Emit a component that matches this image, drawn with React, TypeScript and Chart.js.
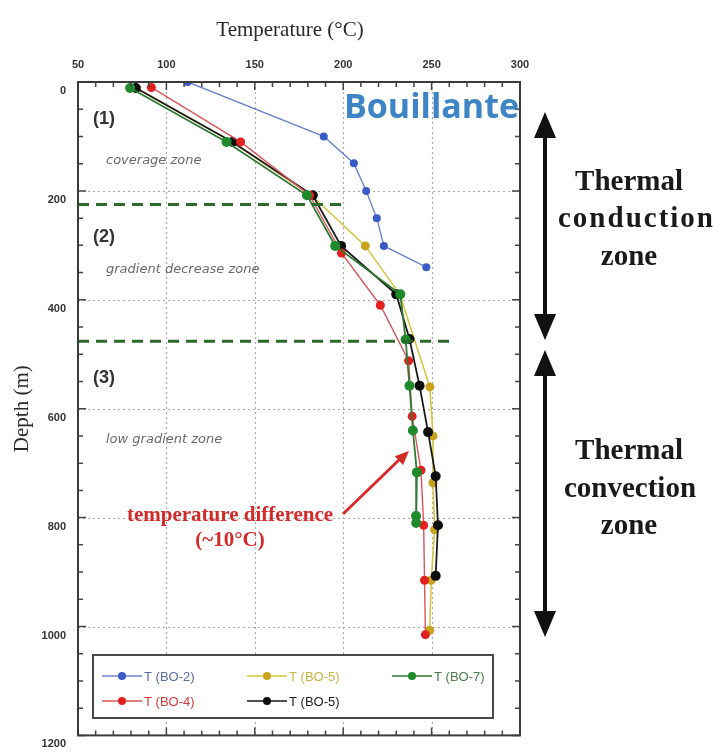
import React, { useEffect, useRef } from 'react';
import { Chart, registerables } from 'chart.js';

Chart.register(...registerables);

// ---- axis ticks ----
const tempTicks = [50, 100, 150, 200, 250, 300];
const depthTicks = [0, 200, 400, 600, 800, 1000, 1200];

// ---- series (temperature °C, depth m) ----
const bo2Temp = [112, 189, 206, 213, 219, 223, 247];
const bo2Depth = [0, 100, 149, 200, 250, 301, 340];

const bo4Temp = [91.5, 142, 181, 199, 221, 237, 239, 244, 245.5, 246, 246.5];
const bo4Depth = [10, 110, 208, 314, 410, 512, 614, 713, 814, 915, 1015];

const bo5yTemp = [83, 137, 182, 212.5, 232, 249, 250.8, 250.8, 251.7, 249.8, 248.9];
const bo5yDepth = [11, 110, 208, 301, 390, 560, 650, 736, 822, 915, 1007];

const bo5kTemp = [82.7, 137.4, 182.8, 198.8, 230, 237.5, 243.2, 248, 252.3, 253.6, 252.3];
const bo5kDepth = [11, 110, 208, 301, 390, 472, 558, 643, 724, 814, 907];

const bo7Temp = [79.5, 134, 179.5, 195.5, 232.3, 235.3, 237.5, 239.4, 241.7, 241.2, 241.3];
const bo7Depth = [11, 110, 208, 301, 390, 473, 558, 640, 717, 797, 810];

// zone boundaries (depth, temperature range)
const boundaryDepths = [225, 476];
const boundaryStartTemp = [50, 50];
const boundaryEndTemp = [202, 263];

const legendLabels = ['T (BO-2)', 'T (BO-5)', 'T (BO-7)', 'T (BO-4)', 'T (BO-5)'];

const SANS = '"Liberation Sans", Arial, sans-serif';
const SERIF = '"Liberation Serif", "Times New Roman", serif';

const pts = (t: number[], d: number[]) => t.map((v, i) => ({ x: v, y: d[i] }));

const series = [
  { label: 'T (BO-2)', t: bo2Temp, d: bo2Depth, line: '#6d84cc', pt: '#3a5bc6', r: 4, order: 5, w: 1.4 },
  { label: 'T (BO-4)', t: bo4Temp, d: bo4Depth, line: '#d9555a', pt: '#e41f1f', r: 4.5, order: 2, w: 1.4 },
  { label: 'T (BO-5)', t: bo5yTemp, d: bo5yDepth, line: '#d6c23c', pt: '#c9a21c', r: 4.5, order: 4, w: 1.5 },
  { label: 'T (BO-5) ', t: bo5kTemp, d: bo5kDepth, line: '#1a1a1a', pt: '#0d0d0d', r: 5, order: 3, w: 1.8 },
  { label: 'T (BO-7)', t: bo7Temp, d: bo7Depth, line: '#2f7a34', pt: '#1d8a2c', r: 5, order: 1, w: 1.8 },
];

function drawArrowHead(ctx: CanvasRenderingContext2D, x1: number, y1: number, x2: number, y2: number, len: number, half: number) {
  const ang = Math.atan2(y2 - y1, x2 - x1);
  ctx.beginPath();
  ctx.moveTo(x2, y2);
  ctx.lineTo(x2 - len * Math.cos(ang) + half * Math.sin(ang), y2 - len * Math.sin(ang) - half * Math.cos(ang));
  ctx.lineTo(x2 - len * Math.cos(ang) - half * Math.sin(ang), y2 - len * Math.sin(ang) + half * Math.cos(ang));
  ctx.closePath();
  ctx.fill();
}

function doubleArrow(ctx: CanvasRenderingContext2D, x: number, yTop: number, yBot: number) {
  ctx.save();
  ctx.strokeStyle = '#111';
  ctx.fillStyle = '#111';
  ctx.lineWidth = 4;
  ctx.beginPath();
  ctx.moveTo(x, yTop + 20);
  ctx.lineTo(x, yBot - 20);
  ctx.stroke();
  drawArrowHead(ctx, x, yBot, x, yTop, 26, 11);
  drawArrowHead(ctx, x, yTop, x, yBot, 26, 11);
  ctx.restore();
}

const overlay = {
  id: 'overlay',
  beforeDatasetsDraw(chart: any) {
    const { ctx, chartArea: a, scales } = chart;
    const x = scales.x, y = scales.y;
    ctx.save();
    ctx.strokeStyle = '#a8a8a8';
    ctx.lineWidth = 1.2;
    ctx.setLineDash([2, 3]);
    for (const t of tempTicks) {
      if (t <= tempTicks[0] || t >= tempTicks[tempTicks.length - 1]) continue;
      const px = Math.round(x.getPixelForValue(t)) + 0.5;
      ctx.beginPath(); ctx.moveTo(px, a.top); ctx.lineTo(px, a.bottom); ctx.stroke();
    }
    for (const d of depthTicks) {
      if (d <= depthTicks[0] || d >= depthTicks[depthTicks.length - 1]) continue;
      const py = Math.round(y.getPixelForValue(d)) + 0.5;
      ctx.beginPath(); ctx.moveTo(a.left, py); ctx.lineTo(a.right, py); ctx.stroke();
    }
    ctx.restore();
  },
  afterDatasetsDraw(chart: any) {
    const { ctx, chartArea: a, scales } = chart;
    const x = scales.x, y = scales.y;
    ctx.save();

    // ticks (inward), all four sides
    ctx.strokeStyle = '#444';
    ctx.lineWidth = 1.5;
    for (let t = 50; t <= 300; t += 10) {
      const px = x.getPixelForValue(t);
      const len = t % 50 === 0 ? 8 : 5;
      ctx.beginPath();
      ctx.moveTo(px, a.top); ctx.lineTo(px, a.top + len);
      ctx.moveTo(px, a.bottom); ctx.lineTo(px, a.bottom - len);
      ctx.stroke();
    }
    for (let d = 0; d <= 1200; d += 50) {
      const py = y.getPixelForValue(d);
      const len = d % 200 === 0 ? 8 : 5;
      ctx.beginPath();
      ctx.moveTo(a.left, py); ctx.lineTo(a.left + len, py);
      ctx.moveTo(a.right, py); ctx.lineTo(a.right - len, py);
      ctx.stroke();
    }
    // frame
    ctx.strokeStyle = '#3c3c3c';
    ctx.lineWidth = 2;
    ctx.strokeRect(a.left, a.top, a.right - a.left, a.bottom - a.top);

    // axis title (top)
    ctx.fillStyle = '#2a2a2a';
    ctx.font = `21px ${SERIF}`;
    ctx.textAlign = 'center';
    ctx.textBaseline = 'middle';
    ctx.fillText('Temperature (°C)', 290, 30);

    // Bouillante
    ctx.fillStyle = '#3f85c6';
    ctx.font = `bold 34px "Open Sans", ${SANS}`;
    ctx.textAlign = 'right';
    ctx.fillText('Bouillante', 519, 108);

    // zone labels
    ctx.textAlign = 'left';
    ctx.fillStyle = '#333';
    ctx.font = `bold 18px ${SANS}`;
    ctx.fillText('(1)', 93, 119);
    ctx.fillText('(2)', 93, 237);
    ctx.fillText('(3)', 93, 378);
    ctx.fillStyle = '#6a6a6a';
    ctx.font = `italic 13px "DejaVu Sans", ${SANS}`;
    ctx.fillText('coverage zone', 106, 161);
    ctx.fillText('gradient decrease zone', 106, 270);
    ctx.fillText('low gradient zone', 106, 440);

    // red annotation
    ctx.fillStyle = '#d32a2a';
    ctx.font = `bold 21px ${SERIF}`;
    ctx.textAlign = 'center';
    ctx.fillText('temperature difference', 230, 516);
    ctx.fillText('(~10°C)', 230, 541);
    ctx.strokeStyle = '#d92b2b';
    ctx.lineWidth = 3;
    ctx.beginPath();
    ctx.moveTo(343, 514);
    ctx.lineTo(400, 459);
    ctx.stroke();
    drawArrowHead(ctx, 343, 514, 409, 451, 14, 6);

    // legend
    const lx = 93, ly = 655, lw = 400, lh = 63;
    ctx.fillStyle = '#fff';
    ctx.fillRect(lx, ly, lw, lh);
    ctx.strokeStyle = '#4a4a4a';
    ctx.lineWidth = 2;
    ctx.strokeRect(lx, ly, lw, lh);
    const legendOrder = [0, 2, 4, 1, 3];
    const colX = [102, 247, 392];
    const rowY = [676, 701];
    const textCols = ['#5c6ba6', '#c9b440', '#4b7d4b', '#cf3a3a', '#222'];
    legendOrder.forEach((si, k) => {
      const s = series[si];
      const cx = colX[k % 3];
      const cy = rowY[Math.floor(k / 3)];
      ctx.strokeStyle = s.line;
      ctx.lineWidth = 1.5;
      ctx.beginPath(); ctx.moveTo(cx, cy); ctx.lineTo(cx + 40, cy); ctx.stroke();
      ctx.fillStyle = s.pt;
      ctx.beginPath(); ctx.arc(cx + 20, cy, 4, 0, Math.PI * 2); ctx.fill();
      ctx.fillStyle = textCols[k];
      ctx.font = `13px ${SANS}`;
      ctx.textAlign = 'left';
      ctx.fillText(legendLabels[k], cx + 42, cy + 1);
    });

    // right-hand annotations
    doubleArrow(ctx, 545, 112, 340);
    doubleArrow(ctx, 545, 350, 637);
    ctx.fillStyle = '#1a1a1a';
    ctx.font = `bold 29px ${SERIF}`;
    ctx.textAlign = 'center';
    ctx.fillText('Thermal', 629, 183);
    ctx.fillText('zone', 629, 258);
    ctx.fillText('Thermal', 629, 452);
    ctx.fillText('convection', 630, 490);
    ctx.fillText('zone', 629, 527);
    ctx.textAlign = 'left';
    (ctx as any).letterSpacing = '2px';
    ctx.fillText('conduction', 558, 220);
    (ctx as any).letterSpacing = '0px';

    ctx.restore();
  },
};

export default function App() {
  const ref = useRef<HTMLCanvasElement>(null);
  useEffect(() => {
    const datasets: any[] = series.map((s) => ({
      label: s.label,
      data: pts(s.t, s.d),
      showLine: true,
      borderColor: s.line,
      borderWidth: s.w,
      backgroundColor: s.pt,
      pointBackgroundColor: s.pt,
      pointBorderColor: s.pt,
      pointBorderWidth: 0,
      pointRadius: s.r,
      order: s.order + 2,
    }));
    boundaryDepths.forEach((d, i) => {
      datasets.push({
        label: 'boundary' + i,
        data: [{ x: boundaryStartTemp[i], y: d }, { x: boundaryEndTemp[i], y: d }],
        showLine: true,
        borderColor: '#2c6a2c',
        borderWidth: 3,
        borderDash: [11, 7],
        pointRadius: 0,
        order: 0,
      });
    });
    const chart = new Chart(ref.current!, {
      type: 'scatter',
      data: { datasets },
      options: {
        animation: false,
        responsive: false,
        maintainAspectRatio: false,
        layout: { padding: { left: 0, top: 0, right: 193, bottom: 16 } },
        plugins: { legend: { display: false }, tooltip: { enabled: false } },
        scales: {
          x: {
            type: 'linear',
            position: 'top',
            min: 50,
            max: 300,
            afterBuildTicks: (s: any) => { s.ticks = tempTicks.map((v) => ({ value: v })); },
            afterFit: (s: any) => { s.height = 82; },
            ticks: {
              callback: (v: any) => String(v),
              font: { family: SANS, size: 11, weight: 'bold' },
              color: '#333',
              padding: 10,
              maxRotation: 0,
              autoSkip: false,
            },
            grid: { display: false, drawTicks: false },
            border: { display: false },
          },
          y: {
            type: 'linear',
            reverse: true,
            min: 0,
            max: 1200,
            afterBuildTicks: (s: any) => { s.ticks = depthTicks.map((v) => ({ value: v })); },
            afterFit: (s: any) => { s.width = 78; },
            ticks: {
              callback: (v: any) => String(v),
              font: { family: SANS, size: 11, weight: 'bold' },
              color: '#333',
              padding: 12,
              labelOffset: 9,
              autoSkip: false,
            },
            title: {
              display: true,
              text: 'Depth (m)',
              font: { family: SERIF, size: 21 },
              color: '#2a2a2a',
              padding: { top: 10, bottom: 0 },
            },
            grid: { display: false, drawTicks: false },
            border: { display: false },
          },
        },
      },
      plugins: [overlay],
    } as any);
    return () => chart.destroy();
  }, []);
  return (
    <div style={{ position: 'fixed', left: 0, top: 0, width: 713, height: 754, background: '#fff' }}>
      <canvas ref={ref} width={713} height={754} style={{ display: 'block', width: 713, height: 754 }} />
    </div>
  );
}
